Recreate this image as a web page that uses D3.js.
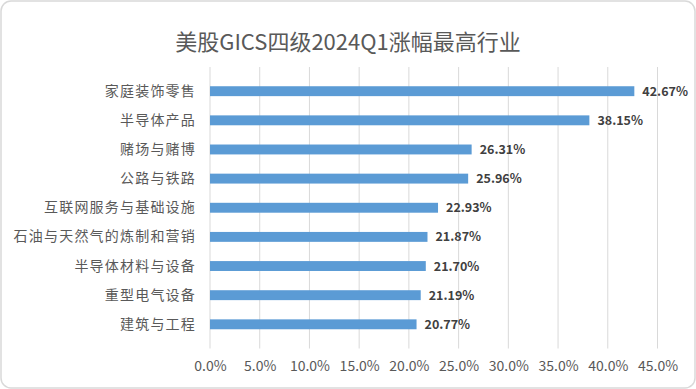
<!DOCTYPE html>
<html>
<head>
<meta charset="utf-8">
<script src="https://cdn.jsdelivr.net/npm/d3@7"></script>
<style>
  html, body { margin: 0; padding: 0; background: #fff; }
  svg { display: block; font-family: "Noto Sans CJK SC", "Noto Sans", sans-serif; }
</style>
</head>
<body>
<div id="chart"></div>
<script>
// données
const categories = ["家庭装饰零售", "半导体产品", "赌场与赌博", "公路与铁路", "互联网服务与基础设施",
  "石油与天然气的炼制和营销", "半导体材料与设备", "重型电气设备", "建筑与工程"];
const values = [42.67, 38.15, 26.31, 25.96, 22.93, 21.87, 21.70, 21.19, 20.77];
const xTicks = [0, 5, 10, 15, 20, 25, 30, 35, 40, 45];
const title = "美股GICS四级2024Q1涨幅最高行业";

const width = 696, height = 389;
const plot = { left: 210, right: 657.5, top: 67, bottom: 348.5 };

const svg = d3.select("#chart").append("svg")
  .attr("width", width).attr("height", height);

// cadre arrondi
svg.append("rect")
  .attr("x", 1).attr("y", 1)
  .attr("width", width - 2).attr("height", height - 2)
  .attr("rx", 10)
  .attr("fill", "#fff").attr("stroke", "#d9d9d9").attr("stroke-width", 1.5);

// titre
svg.append("text")
  .attr("x", 348).attr("y", 50)
  .attr("text-anchor", "middle")
  .attr("font-size", 22)
  .attr("fill", "#595959")
  .text(title);

// échelles
const x = d3.scaleLinear().domain([0, 45]).range([plot.left, plot.right]);
const y = d3.scaleBand().domain(categories).range([plot.top, plot.bottom]).padding(0.66);

// grille
svg.append("g")
  .selectAll("line")
  .data(xTicks)
  .join("line")
  .attr("x1", d => x(d)).attr("x2", d => x(d))
  .attr("y1", plot.top).attr("y2", plot.bottom)
  .attr("stroke", "#d9d9d9").attr("stroke-width", 1);

// axe X (labels seulement)
svg.append("g")
  .attr("transform", `translate(0, ${plot.bottom})`)
  .call(d3.axisBottom(x).tickValues(xTicks).tickFormat(d => d.toFixed(1) + "%").tickSize(0).tickPadding(13))
  .call(g => g.select(".domain").remove())
  .selectAll("text")
  .attr("font-family", "\"Noto Sans CJK SC\", sans-serif")
  .attr("font-size", 14)
  .attr("fill", "#595959");

// axe Y
svg.append("g")
  .attr("transform", `translate(${plot.left}, 0)`)
  .call(d3.axisLeft(y).tickSize(0).tickPadding(14))
  .call(g => g.select(".domain").remove())
  .selectAll("text")
  .attr("font-family", "\"Noto Sans CJK SC\", sans-serif")
  .attr("font-size", 14)
  .attr("letter-spacing", 1.2)
  .attr("fill", "#595959");

// barres
svg.append("g")
  .selectAll("rect")
  .data(values)
  .join("rect")
  .attr("x", x(0))
  .attr("y", (d, i) => y(categories[i]))
  .attr("width", d => x(d) - x(0))
  .attr("height", y.bandwidth())
  .attr("fill", "#5b9bd5");

// étiquettes de valeur
svg.append("g")
  .selectAll("text")
  .data(values)
  .join("text")
  .attr("x", d => x(d) + 8)
  .attr("y", (d, i) => y(categories[i]) + y.bandwidth() / 2)
  .attr("dy", "0.36em")
  .attr("font-size", 12.5)
  .attr("font-weight", "bold")
  .attr("fill", "#404040")
  .text(d => d.toFixed(2) + "%");
</script>
</body>
</html>
